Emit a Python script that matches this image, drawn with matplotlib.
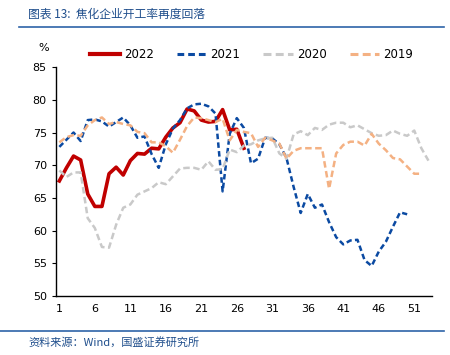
import numpy as np
import matplotlib
matplotlib.use("Agg")
import matplotlib.pyplot as plt
from matplotlib.lines import Line2D

plt.rcParams['font.family'] = ['DejaVu Sans', 'Noto Sans CJK SC']

# weekly coke plant operating rate, %
w2022 = [67.6, 69.6, 71.4, 70.8, 65.6, 63.7, 63.7, 68.7, 69.7, 68.5,
         70.7, 71.8, 71.7, 72.6, 72.5, 74.3, 75.7, 76.5, 78.6, 78.3,
         76.9, 76.6, 76.7, 78.5, 75.4, 75.5, 72.6]
w2021 = [72.8, 73.9, 75.0, 73.7, 76.9, 77.0, 76.7, 75.9, 76.6, 77.3,
         76.1, 74.2, 74.4, 71.7, 69.6, 73.2, 75.6, 76.9, 78.7, 79.3,
         79.4, 79.0, 77.9, 66.0, 74.8, 77.2, 75.7, 70.3, 71.0, 74.2,
         74.1, 73.2, 71.1, 66.7, 62.7, 65.6, 63.5, 64.0, 61.3, 59.0,
         57.9, 58.5, 58.6, 55.5, 54.6, 56.8, 58.3, 60.6, 62.8, 62.5]
w2020 = [69.2, 68.2, 68.9, 68.9, 61.9, 60.4, 57.5, 57.4, 60.9, 63.5,
         64.0, 65.5, 66.0, 66.5, 67.4, 67.1, 68.3, 69.5, 69.6, 69.6,
         69.3, 70.6, 69.3, 69.4, 72.4, 72.0, 73.0, 73.2, 73.8, 74.1,
         74.2, 71.8, 71.0, 74.7, 75.2, 74.6, 75.7, 75.4, 76.2, 76.5,
         76.5, 75.8, 76.1, 75.5, 74.9, 74.5, 74.6, 75.3, 74.8, 74.5,
         75.3, 72.6, 70.7]
w2019 = [73.5, 74.3, 74.6, 74.5, 76.1, 76.9, 77.3, 76.3, 76.6, 76.3,
         76.1, 75.1, 74.9, 73.5, 73.5, 72.9, 71.9, 73.9, 76.0, 77.3,
         77.2, 76.9, 76.6, 77.1, 73.8, 75.4, 75.1, 74.9, 72.8, 74.2,
         73.8, 73.3, 71.0, 72.2, 72.6, 72.6, 72.6, 72.6, 66.4, 71.8,
         73.1, 73.6, 73.6, 73.0, 74.8, 73.3, 72.3, 71.1, 70.9, 69.8,
         68.7, 68.7]

series = [("2022", w2022, "#C00000", "-", 2.6),
          ("2021", w2021, "#0B4AA2", (0, (2.2, 1.3)), 1.8),
          ("2020", w2020, "#C9C9C9", (0, (2.6, 1.4)), 1.8),
          ("2019", w2019, "#F4B183", (0, (2.6, 1.4)), 1.8)]

fig = plt.figure(figsize=(4.5, 3.55), dpi=100)
ax = fig.add_axes([0.124, 0.166, 0.836, 0.645])

handles = []
for name, vals, col, ls, lw in series:
    wk = np.arange(1, len(vals) + 1)
    ax.plot(wk, vals, color=col, linestyle=ls, linewidth=lw)
    handles.append(Line2D([], [], color=col, linestyle=ls, linewidth=lw + 0.4, label=name))

ax.set_xlim(0.5, 53.5)
ax.set_ylim(50, 85)
ax.set_xticks(np.arange(1, 53, 5))
ax.set_yticks(np.arange(50, 86, 5))
ax.tick_params(axis='x', length=0, labelsize=8, pad=6)
ax.tick_params(axis='y', length=3, labelsize=8, direction='out')
for s in ['top', 'right']:
    ax.spines[s].set_visible(False)
for s in ['left', 'bottom']:
    ax.spines[s].set_linewidth(1.0)

fig.legend(handles=handles, loc='center', bbox_to_anchor=(0.559, 0.846), ncol=4,
           frameon=False, fontsize=8.5, handlelength=2.5, handletextpad=0.35,
           columnspacing=1.95)
fig.text(38 / 450, 1 - 48 / 355, "%", fontsize=8, ha='left', va='center')

title_col = "#1F4E8C"
fig.text(28 / 450, 1 - 14 / 355, "图表 13:  焦化企业开工率再度回落", fontsize=8.5,
         color=title_col, style='italic', ha='left', va='center',
         family=['Noto Sans CJK SC', 'DejaVu Sans'])
fig.add_artist(Line2D([19 / 450, 444 / 450], [1 - 27 / 355, 1 - 27 / 355],
                      color="#2E63A8", linewidth=1.2))
fig.add_artist(Line2D([0.0, 444 / 450], [1 - 331 / 355, 1 - 331 / 355],
                      color="#2E63A8", linewidth=1.2))
fig.text(28 / 450, 1 - 342 / 355, "资料来源：Wind，国盛证券研究所", fontsize=8,
         color=title_col, style='italic', ha='left', va='center',
         family=['Noto Sans CJK SC', 'DejaVu Sans'])

fig.savefig("out.png", dpi=100)
